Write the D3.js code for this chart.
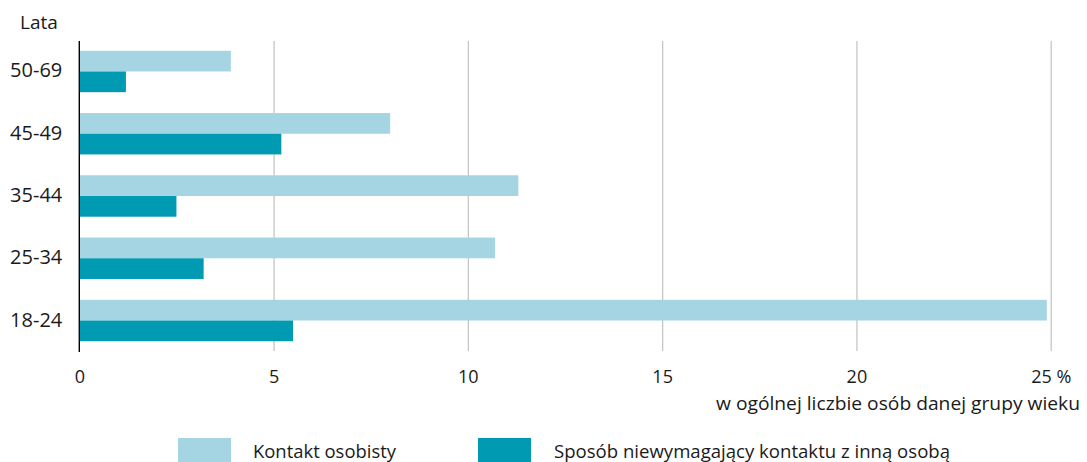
<!DOCTYPE html>
<html>
<head>
<meta charset="utf-8">
<script src="https://cdn.jsdelivr.net/npm/d3@7"></script>
<style>
  html, body { margin: 0; padding: 0; background: #fff; }
  svg { display: block; }
  text { font-family: "Open Sans", "Noto Sans", sans-serif; fill: #1a1a1a; }
</style>
</head>
<body>
<script>
// ---- data ----
const categories = ["50-69", "45-49", "35-44", "25-34", "18-24"];
const kontaktOsobisty = [3.9, 8.0, 11.3, 10.7, 24.9];
const bezKontaktu = [1.2, 5.2, 2.5, 3.2, 5.5];
const seriesNames = ["Kontakt osobisty", "Sposób niewymagający kontaktu z inną osobą"];
const xTickValues = [0, 5, 10, 15, 20, 25];
const xTickLabels = ["0", "5", "10", "15", "20", "25 %"];
const yAxisTitle = "Lata";
const xAxisTitle = "w ogólnej liczbie osób danej grupy wieku";

// ---- layout ----
const W = 1087, H = 462;
const colors = ["#a5d5e2", "#009bb3"];

const svg = d3.select("body").append("svg").attr("width", W).attr("height", H);

const x = d3.scaleLinear().domain([0, 25]).range([79.3, 1050.7]);
const y = d3.scaleBand().domain(categories).range([41, 351])
  .paddingInner(0.335).paddingOuter(0.157);
const ySub = d3.scaleBand().domain([0, 1]).range([0, y.bandwidth()]);

const rows = categories.map((c, i) => ({ cat: c, vals: [kontaktOsobisty[i], bezKontaktu[i]] }));

// gridlines
const grid = svg.append("g")
  .attr("transform", "translate(0,41)")
  .call(d3.axisBottom(x).tickValues(xTickValues.slice(1)).tickSize(351 - 41).tickFormat(""));
grid.select(".domain").remove();
grid.selectAll(".tick line").attr("stroke", "#c6c6c6").attr("stroke-width", 1.3);

// bars
const g = svg.append("g");
rows.forEach(r => {
  r.vals.forEach((v, j) => {
    g.append("rect")
      .attr("x", x(0))
      .attr("y", y(r.cat) + ySub(j))
      .attr("width", x(v) - x(0))
      .attr("height", ySub.bandwidth())
      .attr("fill", colors[j]);
  });
});

// y axis line
svg.append("line")
  .attr("x1", x(0)).attr("x2", x(0))
  .attr("y1", 41).attr("y2", 352)
  .attr("stroke", "#000").attr("stroke-width", 1.4);

// y tick labels
const yAxis = svg.append("g").attr("transform", `translate(${x(0)},0)`)
  .call(d3.axisLeft(y).tickSize(0).tickPadding(17));
yAxis.select(".domain").remove();
yAxis.selectAll("text")
  .style("font-family", '"Open Sans", sans-serif')
  .style("font-size", "20px")
  .attr("fill", "#1a1a1a")
  .attr("dy", "0.3em");

// x tick labels
const xAxis = svg.append("g").attr("transform", "translate(0,383)")
  .call(d3.axisBottom(x).tickValues(xTickValues).tickSize(0).tickPadding(0)
    .tickFormat((d, i) => xTickLabels[i]));
xAxis.select(".domain").remove();
xAxis.selectAll("text")
  .style("font-family", '"Open Sans", sans-serif')
  .style("font-size", "18px")
  .attr("fill", "#1a1a1a")
  .attr("y", 0)
  .attr("dy", 0);

// axis titles
svg.append("text").attr("x", 20).attr("y", 29)
  .style("font-size", "19px").text(yAxisTitle);
svg.append("text").attr("x", 1080).attr("y", 410).attr("text-anchor", "end")
  .style("font-size", "19px")
  .attr("textLength", 364).attr("lengthAdjust", "spacingAndGlyphs")
  .text(xAxisTitle);

// legend
const legendItems = [
  { sx: 178, tx: 253, tw: 143 },
  { sx: 478, tx: 554, tw: 396 }
];
legendItems.forEach((it, i) => {
  svg.append("rect").attr("x", it.sx).attr("y", 438).attr("width", 53).attr("height", 26)
    .attr("fill", colors[i]);
  svg.append("text").attr("x", it.tx).attr("y", 458)
    .style("font-size", "18.5px")
    .attr("textLength", it.tw).attr("lengthAdjust", "spacingAndGlyphs")
    .text(seriesNames[i]);
});
</script>
</body>
</html>
